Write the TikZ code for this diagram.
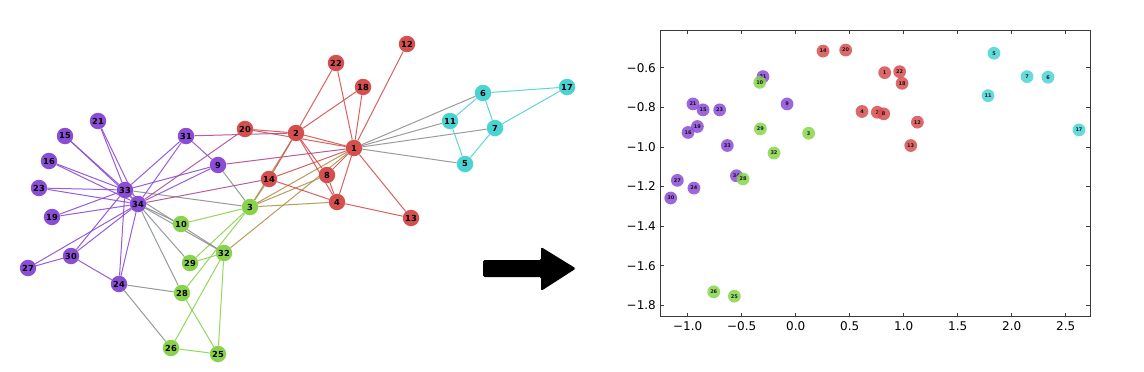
\documentclass[tikz,border=0pt]{standalone}
\usepackage{fontspec}
\setmainfont{DejaVu Sans}
\usepackage{tikz}
\usetikzlibrary{backgrounds}

\definecolor{cr}{HTML}{D64F4F}
\definecolor{cp}{HTML}{8B4CD6}
\definecolor{cg}{HTML}{88D34B}
\definecolor{cc}{HTML}{4BD3D3}
\definecolor{spine}{HTML}{3A3A3A}

\begin{document}
\begin{tikzpicture}[x=1pt,y=-1pt,
  gnode/.style={circle,inner sep=0pt,minimum size=16.5pt,
    font=\fontsize{8.3}{8.3}\selectfont\bfseries},
  edge/.style={line width=1pt,draw opacity=.9},
  emb/.style={circle,inner sep=0pt,minimum size=12.8pt,fill opacity=.85,
    font=\fontsize{5}{5}\selectfont\bfseries},
  ticklbl/.style={inner sep=0pt,font=\fontsize{12}{12}\selectfont}]
  \useasboundingbox (0,0) rectangle (1144,372);

  % the club graph
  \foreach \n/\x/\y/\c in {1/354/148/cr,2/296/133/cr,3/250/207/cg,4/337/202/cr,
      5/465/164/cc,6/483/93/cc,7/495/128/cc,8/327/175/cr,9/218/165/cp,
      10/181/224/cg,11/450/121/cc,12/407/44/cr,13/411/218/cr,14/269/179/cr,
      15/65/136/cp,16/49/161/cp,17/567/87/cc,18/363/87/cr,19/52/217/cp,
      20/245/129/cr,21/98/121/cp,22/336/63/cr,23/39/188/cp,24/119/284/cp,
      25/218/354/cg,26/171/348/cg,27/28/268/cp,28/182/293/cg,29/190/263/cg,
      30/71/256/cp,31/186/136/cp,32/224/253/cg,33/125/190/cp,34/138/204/cp}{
    \node[gnode,fill=\c] (g\n) at (\x,\y) {\n};
    \expandafter\xdef\csname col\n\endcsname{\c}
  }
  \begin{scope}[on background layer]
    \foreach \a/\b in {1/2,1/3,1/4,1/5,1/6,1/7,1/8,1/9,1/11,1/12,1/13,1/14,
        1/18,1/20,1/22,1/32,2/3,2/4,2/8,2/14,2/18,2/20,2/22,2/31,
        3/4,3/8,3/9,3/10,3/14,3/28,3/29,3/33,4/8,4/13,4/14,5/7,5/11,
        6/7,6/11,6/17,7/17,9/31,9/33,9/34,10/34,14/34,15/33,15/34,
        16/33,16/34,19/33,19/34,20/34,21/33,21/34,23/33,23/34,
        24/26,24/28,24/30,24/33,24/34,25/26,25/28,25/32,26/32,27/30,27/34,
        28/34,29/32,29/34,30/33,30/34,31/33,31/34,32/33,32/34,33/34}{
      \edef\ec{\csname col\a\endcsname!50!\csname col\b\endcsname}
      \draw[edge,draw=\ec] (g\a) -- (g\b);
    }
  \end{scope}

  % arrow
  \fill[black,rounded corners=1.5pt] (483,260) -- (541,260) -- (541,247)
    -- (576,268.5) -- (541,291) -- (541,277) -- (483,277) -- cycle;

  % embedding plot
  \begin{scope}[shift={(795.7pt,51.1pt)},x=108pt,y=198pt]
    \draw[spine,line width=0.9pt] (-1.256,-1.857) rectangle (2.725,-0.41);
    \foreach \t/\s in {-1.0/−1.0,-0.5/−0.5,0.0/0.0,0.5/0.5,1.0/1.0,
        1.5/1.5,2.0/2.0,2.5/2.5}{
      \draw[spine,line width=0.7pt] (\t,-1.857) -- ++(0,4pt);
      \draw[spine,line width=0.7pt] (\t,-0.41) -- ++(0,-4pt);
      \node[ticklbl,below=5pt] (xl\t) at (\t,-1.857) {\s};
    }
    \foreach \t/\s in {-0.6/−0.6,-0.8/−0.8,-1.0/−1.0,-1.2/−1.2,
        -1.4/−1.4,-1.6/−1.6,-1.8/−1.8}{
      \draw[spine,line width=0.7pt] (-1.256,\t) -- ++(4pt,0);
      \draw[spine,line width=0.7pt] (2.725,\t) -- ++(-4pt,0);
      \node[ticklbl,left=4pt] (yl\t) at (-1.256,\t) {\s};
    }
    \foreach \n/\x/\y/\c in {9/-0.080/-0.783/cp,15/-0.858/-0.813/cp,
        16/-0.997/-0.927/cp,19/-0.910/-0.897/cp,21/-0.951/-0.783/cp,
        23/-0.704/-0.813/cp,24/-0.942/-1.208/cp,27/-1.096/-1.169/cp,
        30/-1.157/-1.258/cp,31/-0.303/-0.645/cp,33/-0.633/-0.993/cp,
        34/-0.549/-1.146/cp,
        1/0.824/-0.625/cr,2/0.756/-0.825/cr,4/0.614/-0.821/cr,
        8/0.815/-0.833/cr,12/1.127/-0.875/cr,13/1.065/-0.993/cr,
        14/0.253/-0.516/cr,18/0.985/-0.679/cr,20/0.463/-0.511/cr,
        22/0.963/-0.620/cr,
        5/1.836/-0.527/cc,6/2.336/-0.648/cc,7/2.142/-0.645/cc,
        11/1.781/-0.741/cc,17/2.623/-0.914/cc,
        3/0.120/-0.931/cg,10/-0.333/-0.674/cg,25/-0.568/-1.754/cg,
        26/-0.759/-1.732/cg,28/-0.488/-1.162/cg,29/-0.327/-0.909/cg,
        32/-0.201/-1.031/cg}{
      \node[emb,fill=\c] (p\n) at (\x,\y) {\n};
    }
  \end{scope}
\end{tikzpicture}
\end{document}
